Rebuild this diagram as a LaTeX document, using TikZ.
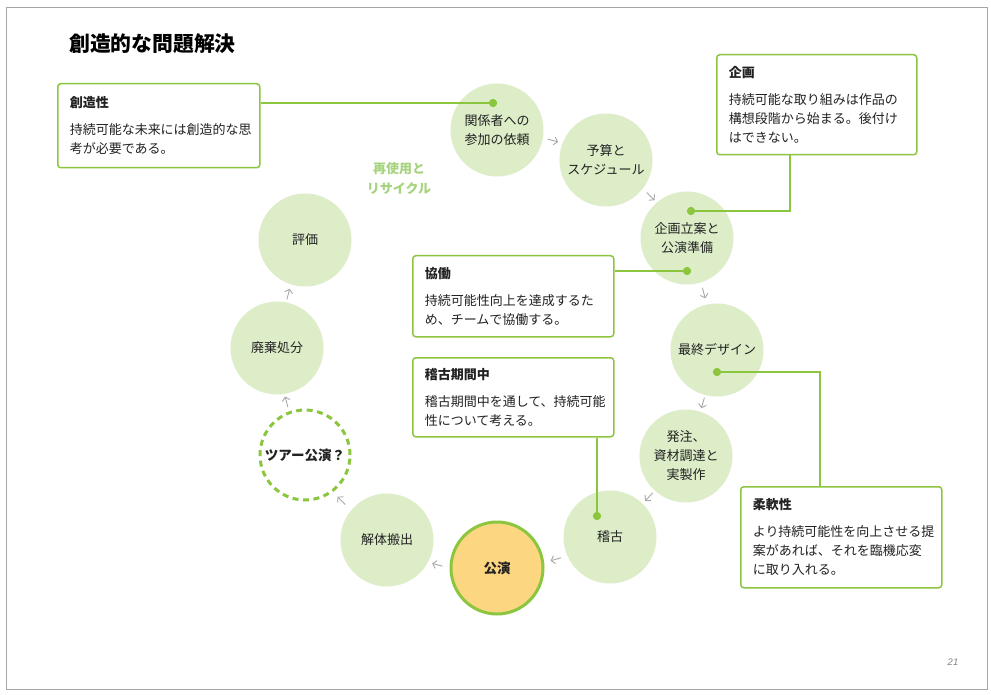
\documentclass[tikz,border=0pt]{standalone}
\usepackage{fontspec}
\setmainfont{Noto Sans CJK JP}
\newfontfamily\pnfont{Liberation Sans}
\usetikzlibrary{calc,arrows.meta}
\definecolor{lgreen}{HTML}{8CC63F}
\definecolor{cfill}{HTML}{DCEDC8}
\definecolor{ofill}{HTML}{FCD680}
\definecolor{rtext}{HTML}{A6D47E}
\definecolor{ink}{HTML}{222222}
\definecolor{agray}{HTML}{A8A8A8}
\tikzset{
  stage/.style={circle, fill=cfill, minimum size=93pt, inner sep=0pt, outer sep=0pt,
    align=center, text=ink, font=\fontsize{13}{19}\selectfont},
  mainstage/.style={stage, fill=ofill, draw=lgreen, line width=3pt, minimum size=92pt, font=\fontsize{13.5}{19}\selectfont\bfseries},
  tourstage/.style={stage, fill=white, draw=lgreen, line width=3pt, dash pattern=on 6pt off 4.5pt, minimum size=90pt, font=\fontsize{13.5}{19}\selectfont\bfseries},
  callout/.style={draw=lgreen, line width=1.5pt, rounded corners=3pt, fill=white, anchor=north west,
    inner xsep=12pt, inner ysep=0pt, align=left, text=ink, font=\fontsize{13}{19}\selectfont},
  link/.style={draw=lgreen, line width=1.5pt},
  dot/.style={circle, fill=lgreen, minimum size=8pt, inner sep=0pt},
  flow/.style={draw=agray, line width=0.9pt, -{Straight Barb[length=3.5pt,width=8pt]}},
}
\newcommand{\flowarrow}[3]{%
  \coordinate (fm) at (#3);
  \draw[flow] ($(fm)!5.5pt!(#1)$) -- ($(fm)!5.5pt!(#2)$);}
\begin{document}
\begin{tikzpicture}[x=1pt,y=-1pt]
\useasboundingbox (0,0) rectangle (991,695);
\fill[white] (0,0) rectangle (991,695);
\draw[gray!70, line width=1.2pt] (6.5,7.5) rectangle (987.5,689.5);

% title
\node[anchor=west, inner sep=0pt, text=black, font=\fontsize{20.8}{24}\selectfont\bfseries] (title) at (69,44) {創造的な問題解決};

% stages
\node[stage] (s1) at (497,130) {関係者への\\参加の依頼};
\node[stage] (s2) at (606,160) {予算と\\スケジュール};
\node[stage] (s3) at (687,238) {企画立案と\\公演準備};
\node[stage] (s4) at (717,350) {最終デザイン};
\node[stage] (s5) at (686,456) {発注、\\資材調達と\\実製作};
\node[stage] (s6) at (610,537) {稽古};
\node[mainstage] (s7) at (497,568) {公演};
\node[stage] (s8) at (387,540) {解体搬出};
\node[tourstage] (s9) at (305,455) {ツアー公演？};
\node[stage] (s10) at (277,348) {廃棄処分};
\node[stage] (s11) at (305,240) {評価};

\node[align=center, text=rtext, font=\fontsize{13}{20}\selectfont\bfseries] (reuse) at (399,178) {再使用と\\リサイクル};

% flow arrows
\flowarrow{s1}{s2}{553,140}
\flowarrow{s2}{s3}{651,196}
\flowarrow{s3}{s4}{704,293}
\flowarrow{s4}{s5}{703,403}
\flowarrow{s5}{s6}{649,497}
\flowarrow{s6}{s7}{556,560}
\flowarrow{s7}{s8}{437,566}
\flowarrow{s8}{s9}{341,501}
\flowarrow{s9}{s10}{286,402}
\flowarrow{s10}{s11}{288,294}

% callouts
\node[callout, minimum width=202pt, minimum height=84pt, text width=178pt] (b1) at (57,83)
  {\textbf{創造性}\\[8pt]持続可能な未来には創造的な思\\考が必要である。};
\node[callout, minimum width=200pt, minimum height=100pt, text width=176pt] (b2) at (716,54)
  {\textbf{企画}\\[8pt]持続可能な取り組みは作品の\\構想段階から始まる。後付け\\はできない。};
\node[callout, minimum width=201pt, minimum height=81pt, text width=177pt] (b3) at (412,255)
  {\textbf{協働}\\[8pt]持続可能性向上を達成するた\\め、チームで協働する。};
\node[callout, minimum width=201pt, minimum height=79pt, text width=177pt] (b4) at (412,357)
  {\textbf{稽古期間中}\\[8pt]稽古期間中を通して、持続可能\\性について考える。};
\node[callout, minimum width=201pt, minimum height=101pt, text width=177pt] (b5) at (740,486)
  {\textbf{柔軟性}\\[8pt]より持続可能性を向上させる提\\案があれば、それを臨機応変\\に取り入れる。};

% dots and links
\node[dot] (d1) at (493,103) {};
\node[dot] (d2) at (691,211) {};
\node[dot] (d3) at (687,271) {};
\node[dot] (d4) at (597,516) {};
\node[dot] (d5) at (717,372) {};
\coordinate (k2) at (790,211);
\coordinate (k4) at (597,436);
\coordinate (k5) at (820,372);

\draw[link] (b1.east |- d1) -- (d1.center);
\draw[link] (b2.south -| k2) |- (d2.center);
\draw[link] (b3.east |- d3) -- (d3.center);
\draw[link] (b4.south -| k4) -- (d4.center);
\draw[link] (b5.north -| k5) |- (d5.center);
\node[dot] at (d1) {};
\node[dot] at (d2) {};
\node[dot] at (d3) {};
\node[dot] at (d4) {};
\node[dot] at (d5) {};

\node[text=gray, font=\pnfont\itshape\fontsize{9.5}{11}\selectfont] (pg) at (953,662) {21};
\end{tikzpicture}
\end{document}
